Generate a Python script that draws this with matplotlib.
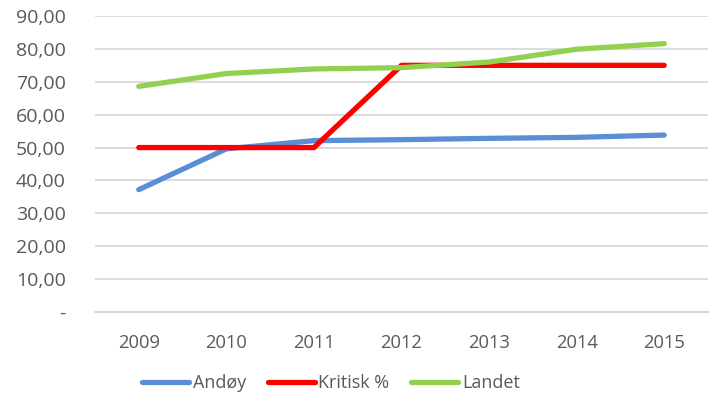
import matplotlib.pyplot as plt
from matplotlib.ticker import FuncFormatter

plt.rcParams['font.family'] = ['Open Sans', 'DejaVu Sans']

years = ["2009", "2010", "2011", "2012", "2013", "2014", "2015"]
andoy = [37.2, 49.6, 52.1, 52.4, 52.8, 53.1, 53.8]
kritisk = [50, 50, 50, 75, 75, 75, 75]
landet = [68.6, 72.5, 73.9, 74.3, 76.0, 79.9, 81.6]

TEXT = '#595959'


def fmt_y(v, pos):
    if abs(v) < 1e-9:
        return '-'
    return f'{v:.2f}'.replace('.', ',')


fig = plt.figure(figsize=(7.09, 4.07), dpi=100)
ax = fig.add_axes([95 / 709, 1 - 312 / 407, 613 / 709, 296 / 407])

x = range(len(years))
ax.plot(x, andoy, color='#5A8FD5', lw=3.8, solid_capstyle='round', label='Andøy')
ax.plot(x, kritisk, color='#FF0000', lw=3.8, solid_capstyle='round', label='Kritisk %')
ax.plot(x, landet, color='#92D050', lw=3.8, solid_capstyle='round', label='Landet')

ax.set_xlim(-0.5, len(years) - 0.5)
ax.set_ylim(0, 90)
ax.set_yticks(range(0, 91, 10))
ax.yaxis.set_major_formatter(FuncFormatter(fmt_y))
ax.set_xticks(list(x))
ax.set_xticklabels(years)

# gridlines
ax.grid(axis='y', color='#D9D9D9', lw=1.3)
ax.set_axisbelow(True)
for s in ['top', 'right', 'left']:
    ax.spines[s].set_visible(False)
ax.spines['bottom'].set_color('#D9D9D9')
ax.spines['bottom'].set_linewidth(1.6)

ax.tick_params(axis='y', length=0, colors=TEXT, labelsize=14, pad=21)
ax.tick_params(axis='x', length=0, colors=TEXT, labelsize=13.2, pad=16)

leg = ax.legend(loc='center', bbox_to_anchor=((331 - 95) / 613, (383 - 312) / -296),
                ncol=3, frameon=False, fontsize=13, handlelength=2.6,
                handletextpad=0.2, columnspacing=1.2, labelcolor=TEXT)

fig.savefig('out.png', dpi=100)
